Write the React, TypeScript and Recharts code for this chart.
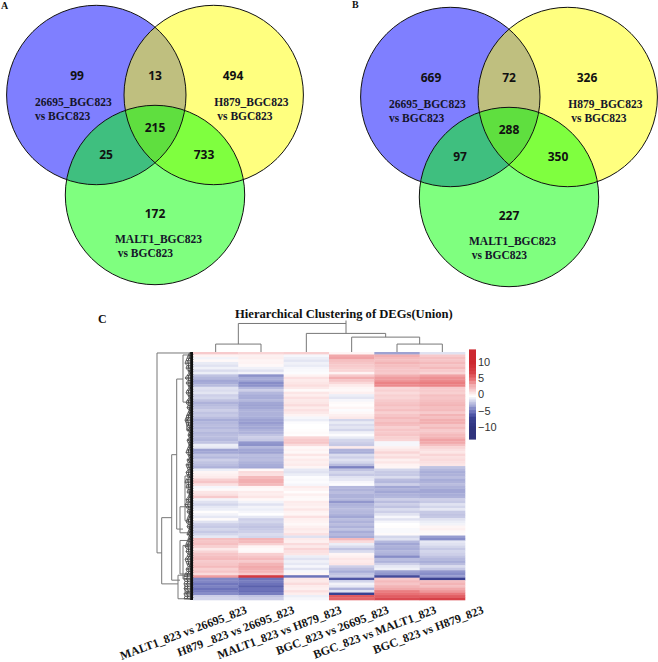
import React from "react";
import { ScatterChart, Scatter, XAxis, YAxis } from "recharts";

// ---------- Venn data ----------
const vennCountsA = [99, 13, 494, 25, 215, 733, 172];
const vennCountsB = [669, 72, 326, 97, 288, 350, 227];
const regionX = [77, 155, 233, 106, 155, 204, 155];
const regionY = [75, 75, 75, 154, 127, 154, 213];
const setCentersX = [96.3, 213.7, 155];
const setCentersY = [95, 95, 195];
const setRadius = [89.7, 89.7, 89.7];
const setFills = ["#0000ff", "#ffff00", "#00ff00"];
const setLabels = ["26695_BGC823", "vs BGC823", "H879_BGC823", "vs BGC823", "MALT1_BGC823", "vs BGC823"];
const setLabelX = [35, 35, 214.3, 217.3, 115, 117.7];
const setLabelY = [106, 120, 106, 120, 242.7, 257];

// ---------- Heatmap data, one list per comparison, top row first ----------
const columnNames = [
  "MALT1_823 vs 26695_823",
  "H879 _823 vs 26695_823",
  "MALT1_823 vs H879_823",
  "BGC_823 vs 26695_823",
  "BGC_823 vs MALT1_823",
  "BGC_823 vs H879_823",
];
const col1 = [
  2, 0.5, -0.4, 0.3, -0.7, -1, -0.5, -1.2, -0.6, -2, -2.4, -3, -2.8, -2.3, -1, -1.2, -0.9, -1.6, -1.4, -2, -2.6, -2.3, -2, -1.6, -2,
  -1.8, -2.2, -2.8, -2.4, -2.2, -2.4, -2, -2.4, -2.2, -2.2, -2.4, -2, -0.6, -0.8, -3.2, -3, -2, -2.4, -1.6, -2, -2.2, -2.6, -0.6, 0.4, 0.6,
  0.8, 1.8, 2.2, 1.2, -0.3, 0.2, 1, 1.2, 2, -0.4, -1, -1.4, -0.8, -0.6, 0.1, -0.4, -0.8, 0.2, -1, -1.6, -1.8, -1.4, -1.8, -1.4, -0.8,
  2.4, 2.2, 2.4, 1.8, 0.9, 1.6, 2.2, 2.4, 2.6, 2, 2.2, 2.6, 1.8, 2.2, 1.4, 3.6, -4.2, -4.2, -4.8, -4.4, -5, -4.6, -4, -1.6, -1.4,
];
const col2 = [
  1.6, 0.6, 0.7, 0.4, 0.5, 0.3, -0.5, -1, -0.4, -3.8, -2.8, -3, -4, -3.8, -2.4, -1.6, -2.4, -2.8, -2.8, -2.4, -3, -3.2, -3, -2.6, -2.6,
  -2.6, -2.8, -3.2, -3.4, -3, -3, -2.6, -2.6, -2, -1.6, -1.8, -3.6, -3.8, -2.4, -3, -3.2, -2.2, -2.4, -2.2, -2.6, -2.8, -3, 0.3, 1.4, 1.2,
  2.6, 3, 3, 2.6, 0.4, 0.2, 0.8, 0.7, 1, 0.3, -0.4, -1, -0.4, -0.6, -0.3, 0, -0.8, -1.6, -1.4, -1.8, -2, -1.8, -1.6, -1.2, -1.4,
  2.8, 2.6, 1.8, 0.4, 0.2, 0.3, 1.8, 2.2, 2.6, 2, 2.8, 3.2, 3, 2.8, 2, 8, -5, -4.6, -5, -5.6, -5, -5.2, -4.6, -2, -1.6,
];
const col3 = [
  1.8, -0.3, -0.6, -0.9, -0.5, -0.7, -0.3, -0.2, -0.1, 0.5, 1.2, 0.8, 1, 1.3, 0.9, 0.2, 1, 0.7, 1.2, 0.9, 1, 1.4, 0.8, 1.2, 0.9,
  0.5, -0.3, -0.6, -0.1, 0, 0, 0.1, 0.2, 0.1, 1.6, 2, 2.2, 1.4, 0.3, 0.5, 0.3, 1, 0.4, 0.8, 0.6, 0.8, 0.4, -0.8, -1, -0.6,
  -0.1, -0.2, -0.1, -0.3, 0.8, 0.5, 0.1, 0.6, 0.3, 0.2, 0.8, 0.7, 0.5, 1, 0.5, 0.4, 1.2, 0.6, 0.5, 0.3, 0.6, 0.9, 0.7, 1.2, -1,
  0.8, 0.6, 1.4, 0.9, 1.6, 1.2, 1, -0.6, -1, -0.5, -0.8, -0.3, -1, -0.3, 0.4, -5, 1, 0.9, 1.4, 0.8, 0.6, 1.2, 0.7, -0.6, -0.3,
];
const col4 = [
  0.4, 3.2, 3.4, 2.4, 2.2, 2, 1.8, 1.6, 0.5, 2, 3, 2.2, 1.5, 0.8, 0.4, 0.3, 0.6, -0.6, -0.9, -0.3, 0.2, 0.1, 0.4, -0.1, 0.3,
  0.6, 0.9, -1.4, -0.7, -1.2, -0.9, -1.4, -0.5, -0.1, -0.7, -1.4, -1.6, -1.8, 0.8, -2.6, -2.8, -1.2, -1.6, -1, -1.4, -2.2, -4.4, -2, -1.4, -1.8,
  -1, -0.8, -0.3, -0.1, -2.4, -2.6, -2.2, -2.6, -2.6, -2.4, -3.6, -2.6, -2.4, -2.2, -2.4, -2.6, -3, -2.2, -2.6, -2.2, -2.6, -2, -2.8, -2.4, -2.8,
  2.6, 1.4, -0.6, -1.2, -2, -1.2, 0.4, 0.6, 1, 0.8, 1, -1.6, -2.2, -2.8, -2, -1.8, -6, -1.4, -0.4, -0.8, -2.6, -1, -7, 6, 5.5,
];
const col5 = [
  -3.2, 3, 2.6, 2.4, 2.8, 2.4, 2.2, 2.2, 2, 3, 3.6, 3.8, 4.4, 4.2, 1.5, 1.8, 1.4, 1.8, 1.6, 2, 2.2, 2.4, 2, 2.4, 1.8,
  2.2, 2.6, 2.2, 2.6, 2.4, 1.8, 2.2, 2, 2.2, 1.8, 1.6, -0.3, -0.3, 0.6, 1, 1.6, 1, 1.4, 0.6, 1, 0.5, 0.4, -1.4, -1.8, -1.8,
  -1.2, -2.2, -2.4, -1.6, -3, -2.6, -3, -2.6, -2.4, -1.6, -2.2, -1.6, -2, -1.2, -1.6, -1, -0.3, -1, -0.3, 0, 0.1, -0.2, -0.2, 0.2, -1.4,
  -1, -2.4, -3, -2.6, -2.8, -2.4, -2.6, -4, -2.2, -2.6, -1.6, -0.8, -0.5, -3.2, -3.6, -6.5, 2, 2.6, 2.2, 2.8, 3.2, 4.6, 5, 5.8, 6.6,
];
const col6 = [
  -1, 2, 2.4, 2.2, 2.6, 2.2, 2.6, 2, 1.6, 3.4, 4, 4.2, 4.6, 4.4, 2, 2, 1.8, 2.4, 2.2, 2.4, 2.6, 2.8, 2.4, 2.6, 2,
  2.8, 2.4, 3, 3, 2.2, 2.6, 2, 2.2, 2.6, 2.8, 3.4, 3.2, 2.4, 1.6, 1.2, 1, 1.6, 1.2, 1.4, 1.2, 1, -2, -2.4, -2.8, -2.6,
  -2.2, -2.8, -2.6, -2.2, -2.6, -3, -3, -2.8, -2.6, -1.6, -1.8, -1, -1.4, -0.8, -1.8, -2, -1.8, -1, -0.6, -0.4, 0.4, 0.6, 0.3, 0.2, -3.4,
  -4, -0.8, -1, -1.4, -1.8, -1.4, -1.6, -2, -2.4, -2.8, -2.2, -1.2, -1.8, -3.6, -4, -3.4, -7, 2.4, 2.8, 2.4, 3.2, 3.8, 4.8, 5.8, 7,
];
const columns = [col1, col2, col3, col4, col5, col6];

// ---------- Dendrograms: [position, height] polylines ----------
const topLinks = [
  [[0.5, 0], [0.5, -3.2], [1.5, -3.2], [1.5, 0]],
  [[1, -3.2], [1, -11.5], [3.375, -11.5]],
  [[3.375, -12.7], [3.375, -7.5]],
  [[2.5, 0], [2.5, -7.5], [4.25, -7.5], [4.25, -6]],
  [[3.5, 0], [3.5, -6], [5, -6], [5, -3.2]],
  [[4.5, 0], [4.5, -3.2], [5.5, -3.2], [5.5, 0]],
];
const rowLinks = [
  [[0, 0.4], [36, 0.4], [36, 81], [31.3, 81]],
  [[21.3, 66.8], [31.3, 66.8], [31.3, 93.5], [15, 93.5]],
  [[16.3, 41.4], [21.3, 41.4], [21.3, 92], [13, 92]],
  [[10, 10.9], [16.3, 10.9], [16.3, 71.4], [10, 71.4]],
  [[3, 1.2], [10, 1.2], [10, 20.2], [3, 20.2]],
  [[3, 25.4], [6.3, 25.4], [6.3, 31.5], [3, 31.5]],
  [[4, 50], [8, 50], [8, 68], [4, 68]],
  [[3, 62.4], [13, 62.4], [13, 72.9], [3, 72.9]],
  [[4, 76], [13, 76], [13, 89.5], [3, 89.5]],
  [[3, 78], [10, 78], [10, 91.5], [3, 91.5]],
  [[3, 90], [15, 90], [15, 99.5], [3, 99.5]],
  [[8, 94], [8, 97], [3, 97]],
];
const leafDepths = [
  4, 5, 6, 7, 8, 6, 7, 5, 4, 6, 8, 5, 7, 5, 4, 6, 7, 5, 4, 6, 7, 5, 6, 4, 5,
  6, 7, 8, 7, 6, 5, 6, 4, 5, 4, 6, 5, 4, 5, 6, 7, 5, 4, 6, 5, 7, 6, 5, 7, 6,
  5, 7, 8, 6, 7, 5, 6, 4, 5, 7, 6, 8, 7, 5, 6, 4, 5, 6, 7, 5, 6, 4, 5, 6, 4,
  5, 6, 7, 8, 6, 7, 5, 6, 8, 7, 6, 5, 7, 6, 8, 9, 9, 8, 9, 8, 9, 7, 9, 8, 9,
];

// ---------- Colour key ----------
const keyTicks = [10, 5, 0, -5, -10];
const keySteps = [
  -13, -12, -11, -10, -9, -8, -7, -6, -5, -4, -3, -2.5, -2, -1.5, -1, -0.5, 0, 0.5, 1, 1.5, 2, 2.5, 3, 4, 5, 6, 7, 8, 9, 10, 11, 12, 13,
];
const colorStops: [number, number[]][] = [
  [-10, [48, 52, 125]],
  [-7, [58, 65, 145]],
  [-6, [78, 85, 165]],
  [-5, [108, 114, 186]],
  [-3, [162, 167, 213]],
  [-2, [192, 195, 226]],
  [-1, [224, 226, 241]],
  [0, [255, 255, 255]],
  [1, [252, 230, 230]],
  [2, [247, 202, 204]],
  [3, [242, 175, 177]],
  [5, [232, 112, 116]],
  [7, [215, 65, 72]],
  [10, [205, 40, 48]],
];

function colorOf(v: number) {
  if (v <= colorStops[0][0]) return `rgb(${colorStops[0][1].join(",")})`;
  for (let i = 1; i < colorStops.length; i++) {
    const [b, cb] = colorStops[i];
    const [a, ca] = colorStops[i - 1];
    if (v <= b) {
      const t = (v - a) / (b - a);
      return `rgb(${ca.map((c, k) => Math.round(c + (cb[k] - c) * t)).join(",")})`;
    }
  }
  return `rgb(${colorStops[colorStops.length - 1][1].join(",")})`;
}

const COL_W = 45.33;
const ROW_H = 2.48;
const SERIF = "'Liberation Serif', serif";
const NoDot = () => null;

const heatCells = columns.flatMap((c, i) => c.map((v, r) => ({ x: i + 0.5, y: r + 0.5, v })));
const leafZigzag = leafDepths.flatMap((d, r) => [
  { x: 0, y: r + 0.2 },
  { x: -d / COL_W, y: r + 0.5 },
  { x: 0, y: r + 0.8 },
]);
const leafTips = leafDepths.map((d, r) => ({ x: -d / COL_W, y: r + 0.5 }));
const leafMiddles = leafDepths.map((d, r) => ({ x: (-d * 0.6 - (r % 2)) / COL_W, y: r + 0.5 }));
const toTop = (l: number[][]) => l.map(([x, y]) => ({ x, y }));
const toLeft = (l: number[][]) => l.map(([d, r]) => ({ x: -d / COL_W, y: r }));

const HeatCell = (p: any) => (
  <rect x={p.cx - COL_W / 2} y={p.cy - ROW_H / 2} width={COL_W + 0.3} height={ROW_H + 0.3} fill={colorOf(p.payload.v)} />
);
const KeyCell = (p: any) => <rect x={p.cx - 3.5} y={p.cy - 2.6} width={7} height={5.2} fill={colorOf(p.payload.y)} />;

const ColumnTick = (p: any) => {
  const i = Math.floor(p.payload.value);
  const ax = p.x + 32 + 2 * i;
  const ay = 613;
  return (
    <text
      x={ax}
      y={ay}
      textAnchor="end"
      transform={`rotate(-20.5 ${ax} ${ay})`}
      style={{ fontFamily: SERIF, fontWeight: 700, fontSize: 11.9, fill: "#151515" }}
    >
      {columnNames[i]}
    </text>
  );
};

const line = { stroke: "#777", strokeWidth: 1 };

function Heatmap() {
  return (
    <div style={{ position: "absolute", left: 0, top: 0 }}>
      <ScatterChart width={658} height={662} margin={{ left: 147.67, right: 193, top: 319.76, bottom: 0 }}>
        <XAxis
          type="number"
          dataKey="x"
          domain={[-1, 6]}
          ticks={[0.5, 1.5, 2.5, 3.5, 4.5, 5.5]}
          interval={0}
          height={62}
          axisLine={false}
          tickLine={false}
          tickSize={0}
          tick={ColumnTick}
        />
        <YAxis type="number" dataKey="y" domain={[-13, 100]} reversed hide />
        <Scatter data={heatCells} shape={HeatCell} isAnimationActive={false} />
        {topLinks.map((l, i) => (
          <Scatter key={"t" + i} data={toTop(l)} line={line} shape={NoDot} isAnimationActive={false} />
        ))}
        {rowLinks.map((l, i) => (
          <Scatter key={"r" + i} data={toLeft(l)} line={line} shape={NoDot} isAnimationActive={false} />
        ))}
        <Scatter data={leafZigzag} line={{ stroke: "#555", strokeWidth: 0.8 }} shape={NoDot} isAnimationActive={false} />
        <Scatter data={leafTips} line={{ stroke: "#666", strokeWidth: 1 }} shape={NoDot} isAnimationActive={false} />
        <Scatter data={leafMiddles} line={{ stroke: "#444", strokeWidth: 1 }} shape={NoDot} isAnimationActive={false} />
        <Scatter
          data={toLeft([[1.4, 0], [1.4, 100]])}
          line={{ stroke: "#111", strokeWidth: 2.8 }}
          shape={NoDot}
          isAnimationActive={false}
        />
      </ScatterChart>
    </div>
  );
}

function ColorKey() {
  return (
    <div style={{ position: "absolute", left: 469, top: 345 }}>
      <ScatterChart width={45} height={100} margin={{ left: 0, right: 0, top: 7, bottom: 8 }}>
        <XAxis type="number" dataKey="x" domain={[0, 1]} hide />
        <YAxis
          type="number"
          dataKey="y"
          orientation="right"
          domain={[-13, 13]}
          ticks={keyTicks}
          interval={0}
          width={38}
          axisLine={false}
          tickLine={false}
          tickSize={0}
          tickMargin={2}
          tickFormatter={(v: number) => (v < 0 ? "\u2212" + Math.abs(v) : String(v))}
          tick={{ fontFamily: "'Liberation Sans', sans-serif", fontSize: 11, fill: "#333" }}
        />
        <Scatter data={keySteps.map((y) => ({ x: 0.5, y }))} shape={KeyCell} isAnimationActive={false} />
      </ScatterChart>
    </div>
  );
}

const DiscFill = (p: any) => <circle cx={p.cx} cy={p.cy} r={p.payload.r} fill={p.payload.fill} fillOpacity={0.5} />;
const DiscEdge = (p: any) => <circle cx={p.cx} cy={p.cy} r={p.payload.r} fill="none" stroke="#111" strokeWidth={1} />;
const CountText = (p: any) => (
  <text
    x={p.cx}
    y={p.cy}
    textAnchor="middle"
    dominantBaseline="central"
    style={{ fontFamily: "'Open Sans', sans-serif", fontWeight: 700, fontSize: 12, fill: "#111" }}
  >
    {p.payload.n}
  </text>
);
const NameText = (p: any) => (
  <text x={p.cx} y={p.cy} style={{ fontFamily: SERIF, fontWeight: 700, fontSize: 11.5, fill: "#15152a" }}>
    {p.payload.s}
  </text>
);

function Venn({ counts, left, top }: { counts: number[]; left: number; top: number }) {
  const discs = setCentersX.map((x, i) => ({ x, y: setCentersY[i], r: setRadius[i], fill: setFills[i] }));
  const numbers = counts.map((n, i) => ({ x: regionX[i], y: regionY[i], n }));
  const names = setLabels.map((s, i) => ({ x: setLabelX[i], y: setLabelY[i], s }));
  return (
    <div style={{ position: "absolute", left, top }}>
      <ScatterChart width={305} height={290} margin={{ left: 0, right: 0, top: 0, bottom: 0 }}>
        <XAxis type="number" dataKey="x" domain={[0, 305]} hide />
        <YAxis type="number" dataKey="y" domain={[0, 290]} reversed hide />
        {discs.map((d, i) => (
          <Scatter key={i} data={[d]} shape={DiscFill} isAnimationActive={false} />
        ))}
        <Scatter data={discs} shape={DiscEdge} isAnimationActive={false} />
        <Scatter data={numbers} shape={CountText} isAnimationActive={false} />
        <Scatter data={names} shape={NameText} isAnimationActive={false} />
      </ScatterChart>
    </div>
  );
}

const letter = (s: string, left: number, top: number, size: number) => (
  <div
    style={{
      position: "absolute",
      left,
      top,
      fontFamily: SERIF,
      fontWeight: 700,
      fontSize: size,
      lineHeight: 1,
      color: "#111",
    }}
  >
    {s}
  </div>
);

export default function App() {
  return (
    <div style={{ position: "absolute", left: 0, top: 0, width: 658, height: 662, overflow: "hidden", background: "#fff" }}>
      <Heatmap />
      <ColorKey />
      <Venn counts={vennCountsA} left={0} top={0} />
      <Venn counts={vennCountsB} left={354} top={2} />
      {letter("A", 1, 1, 10)}
      {letter("B", 352, 0, 10)}
      {letter("C", 98, 313, 12)}
      <div
        style={{
          position: "absolute",
          left: 235,
          top: 307,
          whiteSpace: "nowrap",
          fontFamily: SERIF,
          fontWeight: 700,
          fontSize: 12.6,
          lineHeight: "14px",
          color: "#111",
        }}
      >
        Hierarchical Clustering of DEGs(Union)
      </div>
    </div>
  );
}
